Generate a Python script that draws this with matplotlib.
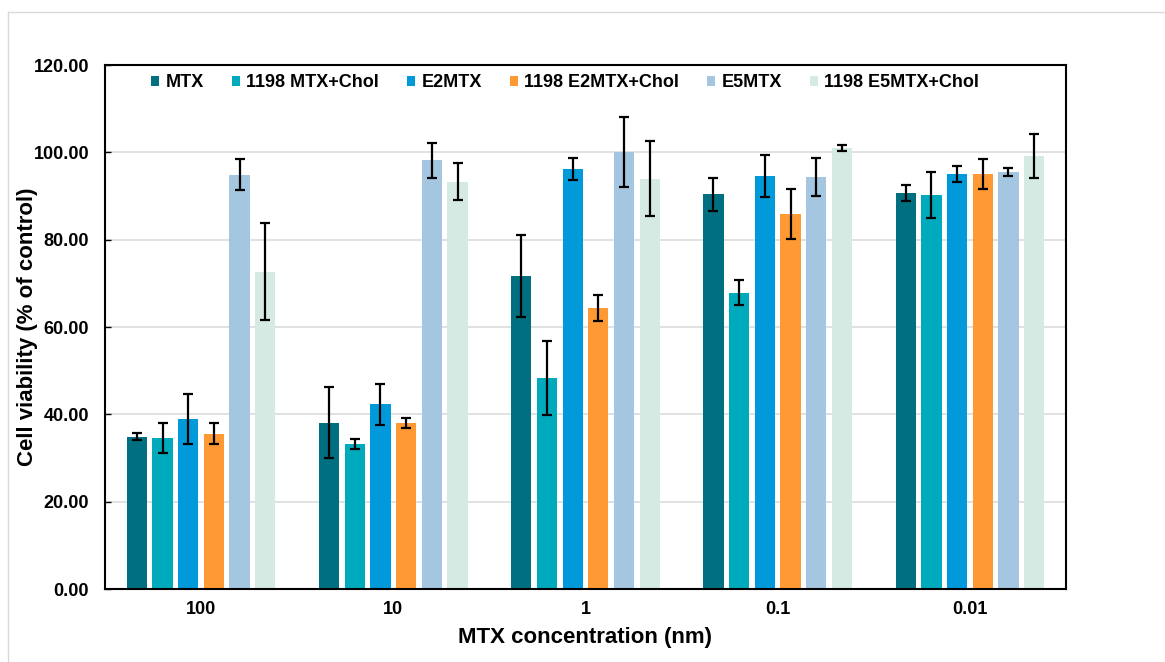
import numpy as np
import matplotlib
matplotlib.use("Agg")
import matplotlib.pyplot as plt
from matplotlib.lines import Line2D

plt.rcParams['font.family'] = ['Liberation Sans', 'DejaVu Sans']
plt.rcParams['font.weight'] = 'bold'

# concentrations on the x axis
concentrations = ['100', '10', '1', '0.1', '0.01']

# series: mean cell viability (% of control) and error
series_names = ['MTX', '1198 MTX+Chol', 'E2MTX', '1198 E2MTX+Chol', 'E5MTX', '1198 E5MTX+Chol']
mtx = [34.9, 38.1, 71.7, 90.4, 90.7]
mtx_err = [0.8, 8.1, 9.4, 3.8, 1.9]
mtx_chol = [34.6, 33.2, 48.4, 67.9, 90.2]
mtx_chol_err = [3.4, 1.2, 8.5, 2.9, 5.3]
e2mtx = [39.0, 42.3, 96.2, 94.6, 95.0]
e2mtx_err = [5.7, 4.7, 2.5, 4.9, 1.9]
e2mtx_chol = [35.6, 38.0, 64.3, 85.9, 95.1]
e2mtx_chol_err = [2.5, 1.2, 3.0, 5.8, 3.4]
e5mtx = [94.9, 98.2, 100.0, 94.3, 95.4]
e5mtx_err = [3.5, 4.0, 8.0, 4.3, 0.9]
e5mtx_chol = [72.7, 93.3, 94.0, 101.0, 99.2]
e5mtx_chol_err = [11.1, 4.2, 8.5, 0.7, 5.0]

values = [mtx, mtx_chol, e2mtx, e2mtx_chol, e5mtx, e5mtx_chol]
errors = [mtx_err, mtx_chol_err, e2mtx_err, e2mtx_chol_err, e5mtx_err, e5mtx_chol_err]
colors = ['#006F7F', '#00AABD', '#009ADB', '#FF9933', '#A5C6E0', '#D4EAE3']

fig = plt.figure(figsize=(11.65, 6.62), dpi=100)
ax = fig.add_axes([105 / 1165, 73 / 662, 961 / 1165, 524 / 662])

x = np.arange(len(concentrations))
pitch = 0.1337
width = 0.1056
for j, (name, vals, errs, c) in enumerate(zip(series_names, values, errors, colors)):
    ax.bar(x + (j - 2.5) * pitch, vals, width, color=c, label=name, zorder=2,
           yerr=errs, error_kw=dict(ecolor='black', elinewidth=1.6, capsize=3.6, capthick=1.6, zorder=3))

ax.set_xlim(-0.5, len(concentrations) - 0.5)
ax.set_ylim(0, 120)
ax.set_yticks(np.arange(0, 121, 20))
ax.set_yticklabels([f'{v:.2f}' for v in np.arange(0, 121, 20)])
ax.set_xticks(x)
ax.set_xticklabels(concentrations)
ax.tick_params(axis='y', direction='in', length=4, width=1, pad=11.5, labelsize=13)
ax.tick_params(axis='x', length=0, pad=9, labelsize=13)
ax.yaxis.grid(True, color='#D9D9D9', linewidth=1.1, zorder=0)
ax.set_axisbelow(True)
for s in ax.spines.values():
    s.set_linewidth(1.5)
    s.set_color('black')

ax.set_xlabel('MTX concentration (nm)', fontsize=16, fontweight='bold', labelpad=6)
ax.set_ylabel('Cell viability (% of control)', fontsize=16, fontweight='bold')
ax.yaxis.set_label_coords(-0.07, 0.5)

ax.legend(loc='center', bbox_to_anchor=(0.479, 0.966), ncol=6, frameon=False,
          fontsize=13, handlelength=0.45, handleheight=0.45, handletextpad=0.35,
          columnspacing=1.55, borderpad=0)

# light outer border of the chart area
fig.add_artist(Line2D([8 / 1165, 8 / 1165], [0, 1 - 12 / 662], transform=fig.transFigure,
                      color='#D9D9D9', linewidth=1))
fig.add_artist(Line2D([8 / 1165, 1], [1 - 12 / 662, 1 - 12 / 662], transform=fig.transFigure,
                      color='#D9D9D9', linewidth=1))

fig.savefig('out.png', dpi=100)
